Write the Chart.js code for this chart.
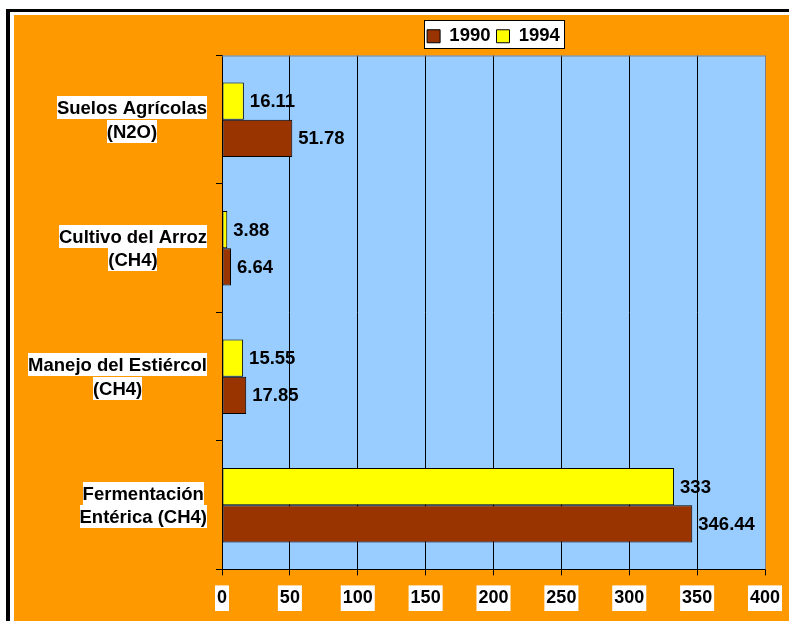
<!DOCTYPE html>
<html>
<head>
<meta charset="utf-8">
<script src="https://cdn.jsdelivr.net/npm/chart.js@4.4.1/dist/chart.umd.min.js"></script>
<style>
  html, body { margin: 0; padding: 0; background: #fff; overflow: hidden; width: 789px; height: 621px; }
  #frame { position: absolute; left: 6px; top: 9px; width: 900px; height: 800px; border-left: 4px solid #000; border-top: 3px solid #000; }
  #wrap { position: absolute; left: 14px; top: 15px; width: 775px; height: 606px; background: #FF9900; }
</style>
</head>
<body>
<div id="frame"></div>
<div id="wrap"><canvas id="c"></canvas></div>
<script>
const categories = [
  ['Suelos Agrícolas', '(N2O)'],
  ['Cultivo del Arroz', '(CH4)'],
  ['Manejo del Estiércol', '(CH4)'],
  ['Fermentación', 'Entérica (CH4)']
];
const values1994 = [16.11, 3.88, 15.55, 333];
const values1990 = [51.78, 6.64, 17.85, 346.44];
const seriesNames = ['1994', '1990'];
const xTicks = [0, 50, 100, 150, 200, 250, 300, 350, 400];

const FONT = '"Liberation Sans", Arial, sans-serif';

const bgPlugin = {
  id: 'bg',
  beforeDraw(chart) {
    const {ctx, chartArea: a} = chart;
    ctx.save();
    ctx.fillStyle = '#99CCFF';
    ctx.fillRect(a.left, a.top, a.right - a.left, a.bottom - a.top);
    const hb = chart.legend && chart.legend.legendHitBoxes;
    if (hb && hb.length) {
      let l = Infinity, r = -Infinity, t = Infinity, b = -Infinity;
      hb.forEach(h => { l = Math.min(l, h.left); r = Math.max(r, h.left + h.width); t = Math.min(t, h.top); b = Math.max(b, h.top + h.height); });
      const x0 = Math.round(l - 3) + 0.5, x1 = Math.round(r + 4) + 0.5;
      const y0 = Math.round(t - 7) + 0.5, y1 = Math.round(b + 2) + 0.5;
      ctx.fillStyle = '#fff';
      ctx.fillRect(x0, y0, x1 - x0, y1 - y0);
      ctx.strokeStyle = '#000';
      ctx.lineWidth = 1;
      ctx.strokeRect(x0, y0, x1 - x0, y1 - y0);
    }
    ctx.restore();
  },
  afterDraw(chart) {
    const {ctx, chartArea: a} = chart;
    ctx.save();
    ctx.strokeStyle = '#808080';
    ctx.lineWidth = 1;
    ctx.beginPath();
    ctx.moveTo(a.left, a.top + 0.5);
    ctx.lineTo(a.right + 0.5, a.top + 0.5);
    ctx.lineTo(a.right + 0.5, a.bottom);
    ctx.stroke();
    const ys = chart.scales.y;
    ctx.font = 'bold 18.5px ' + FONT;
    ctx.textBaseline = 'middle';
    ctx.textAlign = 'center';
    const rightEdge = a.left - 15;
    const lineH = 23.5;
    categories.forEach((lines, i) => {
      const cy = ys.getPixelForValue(i);
      const widths = lines.map(s => ctx.measureText(s).width);
      const maxW = Math.max(...widths);
      const cx = rightEdge - maxW / 2;
      const top = cy - lines.length * lineH / 2;
      lines.forEach((s, j) => {
        const ly = top + j * lineH;
        ctx.fillStyle = '#fff';
        ctx.fillRect(Math.round(cx - widths[j] / 2), Math.round(ly), Math.round(widths[j]), lineH - 0.5);
        ctx.fillStyle = '#000';
        ctx.fillText(s, cx, ly + lineH / 2 + 1);
      });
    });
    ctx.restore();
  },
  afterDatasetsDraw(chart) {
    const {ctx} = chart;
    ctx.save();
    ctx.font = 'bold 18.5px ' + FONT;
    ctx.fillStyle = '#000';
    ctx.textBaseline = 'middle';
    ctx.textAlign = 'left';
    chart.data.datasets.forEach((ds, di) => {
      const meta = chart.getDatasetMeta(di);
      meta.data.forEach((el, i) => {
        ctx.fillText(String(ds.data[i]), el.x + 6, el.y + 1);
      });
    });
    ctx.restore();
  }
};

new Chart(document.getElementById('c'), {
  type: 'bar',
  data: {
    labels: categories,
    datasets: [
      { label: seriesNames[0], data: values1994, backgroundColor: '#FFFF00', borderColor: '#000', borderWidth: 1, borderSkipped: false },
      { label: seriesNames[1], data: values1990, backgroundColor: '#993300', borderColor: '#000', borderWidth: 1, borderSkipped: false }
    ]
  },
  options: {
    indexAxis: 'y',
    responsive: true,
    maintainAspectRatio: false,
    animation: false,
    layout: { padding: { top: 6, right: 24, bottom: 0, left: 0 } },
    datasets: { bar: { categoryPercentage: 0.58, barPercentage: 1 } },
    plugins: {
      legend: {
        position: 'top',
        fullSize: false,
        reverse: true,
        labels: {
          boxWidth: 13, boxHeight: 13, padding: 6,
          color: '#000',
          font: { family: FONT, size: 18.5, weight: 'bold' }
        }
      },
      tooltip: { enabled: false }
    },
    scales: {
      x: {
        min: 0, max: 400,
        afterBuildTicks(scale) { scale.ticks = xTicks.map(v => ({ value: v })); },
        afterFit(scale) { scale.paddingRight = 0; },
        grid: {
          color: ctx => (ctx.tick && ctx.tick.value === 400) ? '#808080' : '#000',
          tickColor: '#000',
          tickLength: 6,
          lineWidth: 1
        },
        border: { color: '#000', width: 1 },
        ticks: {
          color: '#000',
          padding: 12,
          font: { family: FONT, size: 18, weight: 'bold' },
          showLabelBackdrop: true,
          backdropColor: '#fff',
          backdropPadding: { top: 2, bottom: 2, left: 2, right: 2 }
        }
      },
      y: {
        afterFit(scale) { scale.width = 208; },
        grid: { drawOnChartArea: false, drawTicks: true, tickLength: 6, color: '#000', offset: true },
        border: { color: '#000', width: 1 },
        ticks: { display: false }
      }
    }
  },
  plugins: [bgPlugin]
});
</script>
</body>
</html>
